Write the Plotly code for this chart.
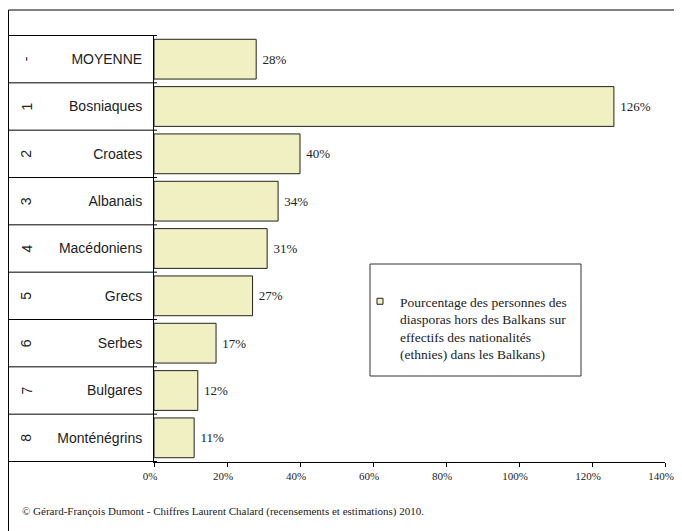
import plotly.graph_objects as go

# Diaspora hors des Balkans / effectifs dans les Balkans (%)
categories = ["MOYENNE", "Bosniaques", "Croates", "Albanais", "Macédoniens",
              "Grecs", "Serbes", "Bulgares", "Monténégrins"]
ranks = ["-", "1", "2", "3", "4", "5", "6", "7", "8"]
values = [28, 126, 40, 34, 31, 27, 17, 12, 11]

series_name = ("Pourcentage des personnes des<br>diasporas hors des Balkans sur<br>"
               "effectifs des nationalités<br>(ethnies) dans les Balkans)")
footer = ("© Gérard-François Dumont - Chiffres Laurent Chalard "
          "(recensements et estimations) 2010.")

OFF = 8  # page body margin: the figure sits 8px right/down in the window
W, H = 682 - OFF, 531 - OFF
# plot area as seen in the window
L, R, T, B = 154, 665, 35, 462

SERIF = "Liberation Serif, Times New Roman, serif"
SANS = "Liberation Sans, Arial, sans-serif"
BAR_FILL = "rgb(240,240,194)"


def px_x(px):
    return (px - L) / (R - L)


def px_y(py):
    return (B - py) / (B - T)


fig = go.Figure()
fig.add_trace(go.Bar(
    x=values,
    y=categories,
    orientation="h",
    name=series_name,
    showlegend=False,
    marker=dict(color=BAR_FILL, line=dict(color="#222222", width=1)),
    text=[f" {v}%" for v in values],
    textposition="outside",
    textfont=dict(family=SERIF, size=13, color="#222222"),
    cliponaxis=False,
    hoverinfo="skip",
))
# legend entry with a small swatch like the original
fig.add_trace(go.Scatter(
    x=[None], y=[None], mode="markers", name=series_name,
    marker=dict(symbol="square", size=6, color=BAR_FILL,
                line=dict(color="#222222", width=1)),
    hoverinfo="skip",
))

shapes = [
    # outer frame
    dict(type="rect", xref="paper", yref="paper",
         x0=px_x(OFF + 0.5), x1=px_x(720), y0=px_y(580), y1=px_y(10),
         line=dict(color="black", width=1)),
    # legend frame
    dict(type="rect", xref="paper", yref="paper",
         x0=px_x(370), x1=px_x(581), y0=px_y(376), y1=px_y(264),
         line=dict(color="#333333", width=1), fillcolor="white", layer="below"),
]
# row separators in the label column
for i in range(len(categories) + 1):
    shapes.append(dict(type="line", xref="paper", yref="y",
                       x0=px_x(OFF + 0.5), x1=px_x(157), y0=i - 0.5, y1=i - 0.5,
                       line=dict(color="black", width=1)))

annotations = [
    dict(text=r, x=px_x(26), y=c, xref="paper", yref="y", showarrow=False,
         xanchor="center", yanchor="middle", textangle=-90,
         font=dict(family=SANS, size=14, color="#222222"))
    for r, c in zip(ranks, categories)
]
annotations.append(dict(
    text=footer, x=px_x(20), y=px_y(512), xref="paper", yref="paper",
    xanchor="left", yanchor="middle", showarrow=False,
    font=dict(family=SERIF, size=11, color="#222222"),
))

fig.update_layout(
    width=W, height=H,
    margin=dict(l=L - OFF, r=W - (R - OFF), t=T - OFF, b=H - (B - OFF)),
    paper_bgcolor="white",
    plot_bgcolor="white",
    bargap=0.16,
    showlegend=True,
    legend=dict(
        x=px_x(360), y=px_y(286), xanchor="left", yanchor="top",
        bgcolor="rgba(0,0,0,0)", borderwidth=0, valign="top",
        font=dict(family=SERIF, size=13.5, color="#222222"),
    ),
    xaxis=dict(
        range=[0, 140], dtick=20, ticksuffix="%", automargin=False,
        ticklabeloverflow="allow", ticklabelshift=-4,
        showgrid=False, zeroline=False,
        showline=True, linecolor="black", linewidth=1,
        ticks="outside", ticklen=4, tickcolor="black",
        tickfont=dict(family=SERIF, size=11, color="#222222"),
    ),
    yaxis=dict(
        autorange="reversed", automargin=False,
        showgrid=False, zeroline=False,
        showline=True, linecolor="black", linewidth=1,
        ticks="", ticklabelstandoff=8,
        tickfont=dict(family=SANS, size=14, color="#222222"),
    ),
    shapes=shapes,
    annotations=annotations,
)

fig.write_html("out.html")
